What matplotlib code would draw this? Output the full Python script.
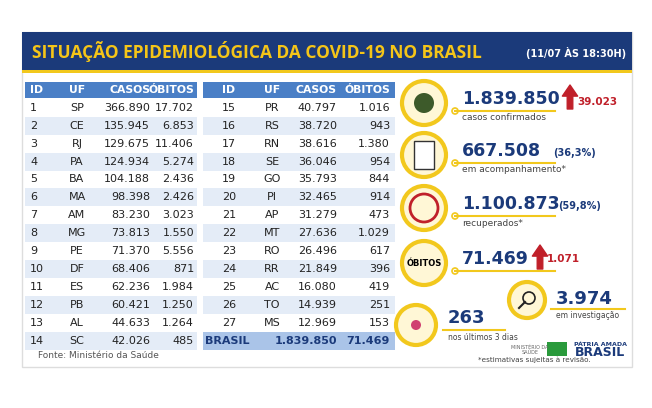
import matplotlib.pyplot as plt
from matplotlib.patches import Rectangle, Circle

# table data
ids_left = list(range(1, 15))
uf_left = ["SP", "CE", "RJ", "PA", "BA", "MA", "AM", "MG", "PE", "DF", "ES", "PB", "AL", "SC"]
casos_left = ["366.890", "135.945", "129.675", "124.934", "104.188", "98.398", "83.230",
              "73.813", "71.370", "68.406", "62.236", "60.421", "44.633", "42.026"]
obitos_left = ["17.702", "6.853", "11.406", "5.274", "2.436", "2.426", "3.023",
               "1.550", "5.556", "871", "1.984", "1.250", "1.264", "485"]
ids_right = list(range(15, 28))
uf_right = ["PR", "RS", "RN", "SE", "GO", "PI", "AP", "MT", "RO", "RR", "AC", "TO", "MS"]
casos_right = ["40.797", "38.720", "38.616", "36.046", "35.793", "32.465", "31.279",
               "27.636", "26.496", "21.849", "16.080", "14.939", "12.969"]
obitos_right = ["1.016", "943", "1.380", "954", "844", "914", "473",
                "1.029", "617", "396", "419", "251", "153"]
total_casos = "1.839.850"
total_obitos = "71.469"

# summary panel
summary_values = ["1.839.850", "667.508", "1.100.873", "71.469"]
summary_labels = ["casos confirmados", "em acompanhamento*", "recuperados*", ""]
summary_extra = ["39.023", "(36,3%)", "(59,8%)", "1.071"]
invest_value = "3.974"
recent_value = "263"

NAVY = "#1b3a7a"
HEAD = "#4a7fc6"
STRIPE = "#e4ecf7"
YELLOW = "#f2c81d"
RED = "#c0202a"

fig = plt.figure(figsize=(6.52, 4.08), dpi=100)
ax = fig.add_axes([0, 0, 1, 1])
ax.set_xlim(0, 652)
ax.set_ylim(408, 0)
ax.axis("off")

# card + title bar
ax.add_patch(Rectangle((22, 32), 610, 335, facecolor="white", edgecolor="#dddddd", lw=1))
ax.add_patch(Rectangle((22, 32), 610, 38, facecolor=NAVY))
ax.add_patch(Rectangle((22, 70), 610, 3, facecolor=YELLOW))
ax.text(32, 52, "SITUAÇÃO EPIDEMIOLÓGICA DA COVID-19 NO BRASIL", color="#f5c518",
        fontsize=12.5, fontweight="bold", va="center", family="Open Sans")
ax.text(626, 53, "(11/07 ÀS 18:30H)", color="white", fontsize=7, fontweight="bold",
        va="center", ha="right")

row_h = 17.9
y0 = 90
fs = 8


def draw_table(x0, w, cols, ids, ufs, casos, obitos):
    ax.add_patch(Rectangle((x0, y0 - 8), w, 16, facecolor=HEAD))
    heads = ["ID", "UF", "CASOS", "ÓBITOS"]
    aligns = ["left", "center", "right", "right"]
    for h, cx, al in zip(heads, cols, aligns):
        ax.text(cx, y0, h, color="white", fontsize=7.8, fontweight="bold", ha=al, va="center")
    for i, (a, b, c, d) in enumerate(zip(ids, ufs, casos, obitos)):
        y = y0 + (i + 1) * row_h
        if i % 2 == 1:
            ax.add_patch(Rectangle((x0, y - row_h / 2), w, row_h, facecolor=STRIPE))
        for v, cx, al in zip([str(a), b, c, d], cols, aligns):
            ax.text(cx, y, v, color="#222222", fontsize=fs, ha=al, va="center")


draw_table(25, 172, [30, 77, 150, 194], ids_left, uf_left, casos_left, obitos_left)
draw_table(203, 192, [222, 272, 337, 390], ids_right, uf_right, casos_right, obitos_right)
yb = y0 + 14 * row_h
ax.add_patch(Rectangle((203, yb - row_h / 2), 192, row_h, facecolor="#aac4e8"))
ax.text(205, yb, "BRASIL", fontsize=fs, fontweight="bold", color=NAVY, va="center")
ax.text(337, yb, total_casos, fontsize=fs, fontweight="bold", color=NAVY, va="center", ha="right")
ax.text(390, yb, total_obitos, fontsize=fs, fontweight="bold", color=NAVY, va="center", ha="right")
ax.text(38, 356, "Fonte: Ministério da Saúde", fontsize=6.5, color="#555555", va="center")

# summary panel
ys = [103, 155, 208, 263]
extra_x = [570, 553, 558, 540]
for i, (val, lab, ex, y) in enumerate(zip(summary_values, summary_labels, summary_extra, ys)):
    ax.add_patch(Circle((424, y), 22, facecolor="#fff7d6", edgecolor=YELLOW, lw=3))
    ax.plot([455, 555], [y + 8, y + 8], color=YELLOW, lw=1.5)
    ax.add_patch(Circle((455, y + 8), 3, facecolor="white", edgecolor=YELLOW, lw=1.2))
    ax.text(462, y - 4, val, fontsize=12.5, fontweight="bold", color=NAVY, va="center")
    if lab:
        ax.text(462, y + 15, lab, fontsize=6.5, color="#444444", va="center")
    if i in (0, 3):
        ax.annotate("", xy=(extra_x[i], y - 18), xytext=(extra_x[i], y + 6),
                    arrowprops=dict(color=RED, width=4, headwidth=11, headlength=8))
        ax.text(extra_x[i] + 7, y - 1 if i == 0 else y - 4, ex, fontsize=7.5,
                fontweight="bold", color=RED, va="center")
    else:
        ax.text(extra_x[i], y - 2, ex, fontsize=7, fontweight="bold",
                color=NAVY, va="center")
ax.text(424, 263, "ÓBITOS", fontsize=6, fontweight="bold", ha="center", va="center")
ax.add_patch(Circle((424, 103), 10, facecolor="#3d5a2a"))
ax.add_patch(Rectangle((414, 141), 20, 28, facecolor="white", edgecolor="#333333", lw=1))
ax.add_patch(Circle((424, 208), 14, facecolor="none", edgecolor=RED, lw=2))

# investigation + recent
ax.add_patch(Circle((527, 300), 18, facecolor="#fff7d6", edgecolor=YELLOW, lw=3))
ax.add_patch(Circle((529, 298), 6, facecolor="none", edgecolor="#222222", lw=1.2))
ax.plot([525, 519], [302, 308], color="#222222", lw=1.5)
ax.plot([551, 625], [309, 309], color=YELLOW, lw=1.5)
ax.text(556, 299, invest_value, fontsize=13, fontweight="bold", color=NAVY, va="center")
ax.text(556, 315, "em investigação", fontsize=5.5, color="#444444", va="center")
ax.add_patch(Circle((416, 325), 20, facecolor="#fff7d6", edgecolor=YELLOW, lw=3))
ax.add_patch(Circle((416, 325), 5, facecolor="#d04070"))
ax.plot([443, 505], [330, 330], color=YELLOW, lw=1.5)
ax.text(448, 318, recent_value, fontsize=13, fontweight="bold", color=NAVY, va="center")
ax.text(448, 337, "nos últimos 3 dias", fontsize=5.5, color="#444444", va="center")

ax.text(478, 360, "*estimativas sujeitas à revisão.", fontsize=5.2, color="#444444", va="center")
ax.text(530, 350, "MINISTÉRIO DA\nSAÚDE", fontsize=3.5, color="#666666", ha="center", va="center")
ax.add_patch(Rectangle((547, 342), 20, 14, facecolor="#2a9a3c"))
ax.text(600, 344, "PÁTRIA AMADA", fontsize=4.5, color=NAVY, fontweight="bold", ha="center", va="center")
ax.text(600, 353, "BRASIL", fontsize=9, color=NAVY, fontweight="bold", ha="center", va="center")

fig.savefig("out.png", dpi=100)
